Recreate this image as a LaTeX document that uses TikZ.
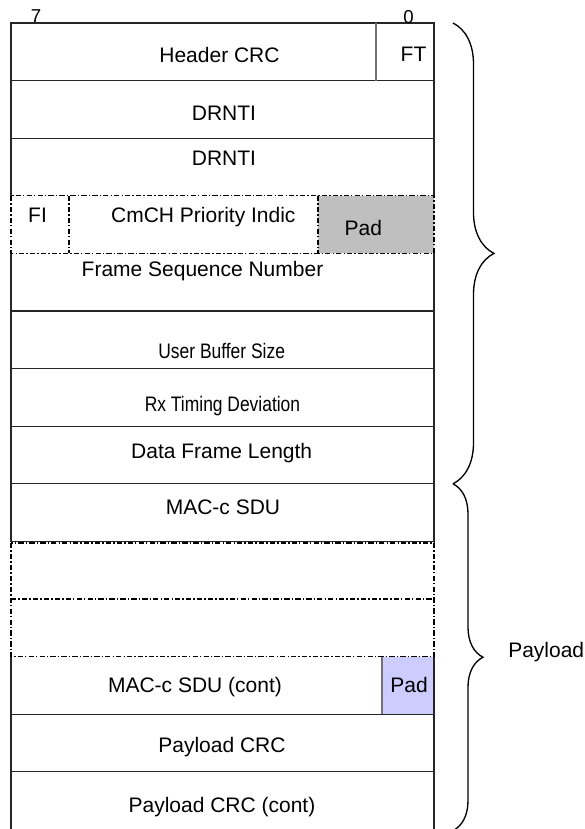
\documentclass[tikz,border=0pt]{standalone}
\usepackage{fontspec}
\setmainfont{Liberation Sans}
\newfontfamily\narrowfont[FakeStretch=0.83]{Liberation Sans}
\usepackage{tikz}
\usetikzlibrary{decorations.pathreplacing}
\tikzstyle{solidline} = [draw=black!85, line width=1pt, line cap=rect]
\tikzstyle{dashdotline} = [draw=black, line width=1pt,
    dash pattern=on 4pt off 1.6pt on 1pt off 1.6pt]
\tikzstyle{divider} = [draw=black!55, line width=0.8pt]
\tikzstyle{fieldtext} = [anchor=base, inner sep=0pt,
    font=\fontsize{15.75}{18}\selectfont]
\tikzstyle{narrowtext} = [fieldtext, font=\narrowfont\fontsize{15.75}{18}\selectfont]
\tikzstyle{bitno} = [anchor=base, inner sep=0pt, font=\fontsize{14}{16}\selectfont]
\tikzstyle{bracebig} = [decorate, decoration={brace, amplitude=30.75pt}, line width=1pt]
\tikzstyle{bracesmall} = [decorate, decoration={brace, amplitude=22.5pt}, line width=1pt]

\begin{document}
\begin{tikzpicture}[x=0.75pt, y=-0.75pt]
  \useasboundingbox (0,0) rectangle (585,829);
  % Fills
  \fill[black!25] (318,195.8) rectangle (434,253.4);
  \fill[blue!20] (382,656.6) rectangle (434,714.2);
  % Solid frame
  \foreach \ya/\yb in {23/195.8, 253.4/541.4, 656.6/835}
    \draw[solidline] (11,\ya) -- (11,\yb) (434,\ya) -- (434,\yb);
  \foreach \y in {23, 80.6, 138.2, 311, 368.6, 426.2, 483.8, 541.4, 714.2, 771.8}
    \draw[solidline] (11,\y) -- (434,\y);
  % Optional fields
  \draw[dashdotline, line width=0.9pt] (11,195.8) rectangle (434,253.4);
  \draw[dashdotline, line width=0.9pt] (69,195.8) -- (69,253.4) (318,195.8) -- (318,253.4);
  \draw[dashdotline, line width=1.2pt] (11,543) rectangle (434,656.6);
  \draw[dashdotline, line width=1.2pt] (11,599) -- (434,599);
  \draw[divider] (376,23) -- (376,80.6);
  \draw[divider] (382,656.6) -- (382,714.2);
  % Bit numbers
  \node[bitno] (bit7) at (36,22.7) {7};
  \node[bitno] (bit0) at (408.5,23.3) {0};
  % Place field names
  \node[fieldtext] (hcrc) at (219.5,62) {Header CRC};
  \node[fieldtext] (ft) at (413.5,61.7) {FT};
  \node[fieldtext] (drnti1) at (224,120) {DRNTI};
  \node[fieldtext] (drnti2) at (224,165) {DRNTI};
  \node[fieldtext] (fi) at (37.5,222) {FI};
  \node[fieldtext] (cmch) at (203.3,222) {CmCH Priority Indic};
  \node[fieldtext] (pad1) at (363.3,235) {Pad};
  \node[fieldtext] (fsn) at (202.5,276.5) {Frame Sequence Number};
  \node[narrowtext] (ubs) at (221.7,358) {User Buffer Size};
  \node[narrowtext] (rxtd) at (222.5,411) {Rx Timing Deviation};
  \node[fieldtext] (dfl) at (221.7,458) {Data Frame Length};
  \node[fieldtext] (sdu) at (223,514) {MAC-c SDU};
  \node[fieldtext] (sducont) at (195,692) {MAC-c SDU (cont)};
  \node[fieldtext] (pad2) at (409,692) {Pad};
  \node[fieldtext] (pcrc) at (222,752) {Payload CRC};
  \node[fieldtext] (pcrccont) at (222,812) {Payload CRC (cont)};
  % Braces
  \coordinate (hdtop) at (453,23);
  \coordinate (hdbot) at (453,483.8);
  \coordinate (plbot) at (453,830.6);
  \draw[bracebig] (hdtop) -- (hdbot);
  \draw[bracesmall] (hdbot) -- (plbot);
  \node[fieldtext, anchor=base west] (payload) at (508,657) {Payload};
\end{tikzpicture}
\end{document}
